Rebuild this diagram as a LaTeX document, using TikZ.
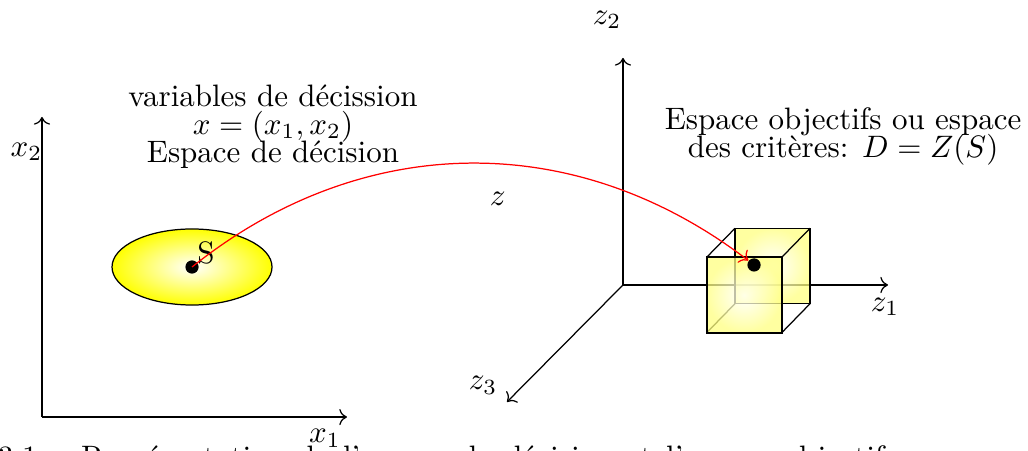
\documentclass[tikz,border=0pt]{standalone}
\usetikzlibrary{arrows.meta}
\begin{document}
\begin{tikzpicture}[
		dotpt/.style={circle, fill=black, inner sep=0pt, minimum size=0.15cm},
		face/.style={inner color=white, outer color=yellow!50, fill opacity=0.75},
	]
		% Frame of the picture (caption below is cut by it)
		\path[use as bounding box] (0,0) rectangle (11.655,5.113);
		\clip (0,0) rectangle (11.655,5.113);
		
		% --- LEFT: DECISION SPACE ---
		% Axes
		\draw[->] (0.476,0.385) -- (3.934,0.385);
		\draw[->] (0.476,0.385) -- (0.476,3.787);
		\node at (0.30,3.39) {$x_2$};
		\node at (3.685,0.147) {$x_1$};
		
		% Feasible set S
		\shade[draw=black, inner color=white, outer color=yellow] (2.177,2.086) ellipse (0.907 and 0.431);
		\node[dotpt] (sdot) at (2.177,2.086) {};
		\node at (2.336,2.25) {S};
		
		% Label of the decision space
		\node[align=center] (decision) at (3.095,3.68) {variables de décission\\[-3pt] $x=(x_1,x_2)$\\[-3pt] Espace de décision};
		
		% --- RIGHT: OBJECTIVE SPACE ---
		% Axes (3D)
		\draw[->] (7.063,1.882) -- (7.063,4.456);
		\draw[->] (7.063,1.882) -- (10.068,1.882);
		\draw[->] (7.063,1.882) -- (5.748,0.556);
		\node at (6.882,4.887) {$z_2$};
		\node at (10.034,1.633) {$z_1$};
		\node at (5.476,0.748) {$z_3$};
		
		% Cube D = Z(S)
		\shade[face] (8.333,1.670) rectangle (9.184,2.525);
		\draw (8.333,1.670) rectangle (9.184,2.525);
		\draw (8.012,1.341) -- (8.333,1.670);
		\draw (8.863,1.341) -- (9.184,1.670);
		\draw (8.012,2.196) -- (8.333,2.525);
		\draw (8.863,2.196) -- (9.184,2.525);
		\shade[face] (8.012,1.341) rectangle (8.863,2.196);
		\draw[semithick] (8.012,1.341) rectangle (8.863,2.196);
		\node[dotpt] (zdot) at (8.549,2.109) {};
		
		% Label of the objective space
		\node[align=center] (objective) at (9.558,3.57) {Espace objectifs ou espace\\[-3pt] des critères: $D=Z(S)$};
		
		% Mapping z from S to D
		\draw[->, red] (sdot.center) to[bend left=38] node[pos=0.55, below=0.2cm, black] {$z$} (zdot);
		
		% Caption (cut at the bottom edge)
		\node[anchor=base west, inner sep=0pt] (caption) at (-0.03,-0.19) {\makebox[10.05cm][s]{3.1 -- Représentation de l'espace de décision et l'espace objectif}};
	\end{tikzpicture}
\end{document}
